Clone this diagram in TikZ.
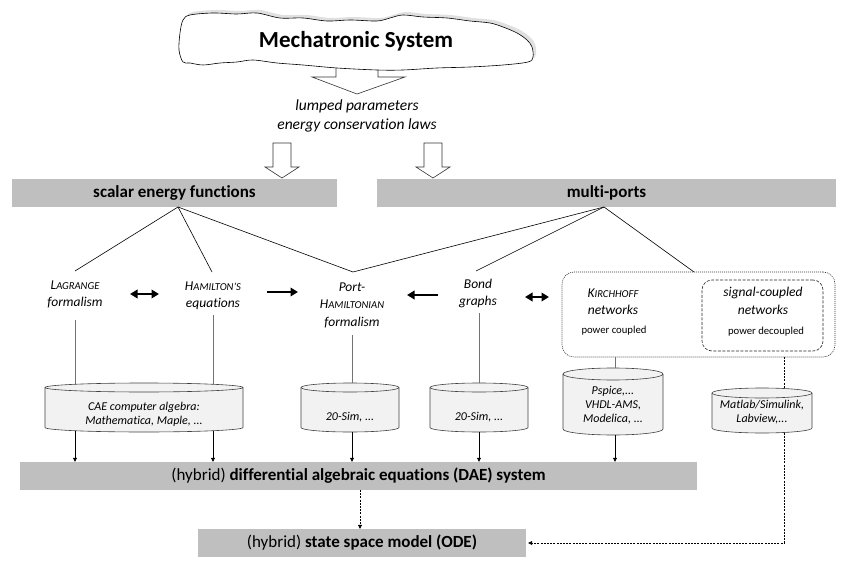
\documentclass[tikz,border=0pt]{standalone}
\usepackage{fontspec}
\setmainfont{Carlito}[Ligatures={NoCommon}]
\usetikzlibrary{arrows.meta,shapes.geometric}
\newcommand\fsc[2]{#1{\fontsize{10.6}{17.5}\selectfont #2}}
\newcommand\mycyl[8]{%
  \path[cylfill] ({#2-#5},{#3+#6}) -- ({#2-#5},{#4-#6}) arc[start angle=180,end angle=360,x radius=#5pt,y radius=#6pt] -- ({#2+#5},{#3+#6}) arc[start angle=0,end angle=180,x radius=#5pt,y radius=#6pt] -- cycle;
  \draw[cylline] ({#2-#5},{#3+#6}) -- ({#2-#5},{#4-#6}) arc[start angle=180,end angle=360,x radius=#5pt,y radius=#6pt] -- ({#2+#5},{#3+#6});
  \draw[cylline] (#2,{#3+#6}) ellipse[x radius=#5pt,y radius=#6pt];
  \node[cyltext] (#1) at (#2,#7) {#8};
}
\begin{document}
\begin{tikzpicture}[x=1pt,y=-1pt,
  barbase/.style={fill=black!25, inner sep=0pt, font=\fontsize{17}{20}\selectfont},
  bar/.style={barbase, font=\fontsize{17}{20}\selectfont\bfseries},
  it/.style={font=\fontsize{13.5}{17.5}\selectfont\itshape, align=center, inner sep=1pt},
  small/.style={font=\fontsize{10.7}{13}\selectfont, inner sep=1pt},
  cyltext/.style={font=\fontsize{12}{14}\selectfont\itshape, align=center, inner sep=1pt},
  tree/.style={line width=0.6pt},
  feed/.style={line width=0.7pt, draw=black!55},
  down/.style={line width=0.6pt, -{Triangle[length=4pt,width=4pt]}},
  sigline/.style={line width=0.6pt, dash pattern=on 2pt off 1.2pt},
  thickarr/.style={line width=2.4pt, -{Triangle[length=7.5pt,width=8.5pt]}},
  dblarr/.style={line width=2.4pt, {Triangle[length=7.5pt,width=8.5pt]}-{Triangle[length=7.5pt,width=8.5pt]}},
  cylfill/.style={fill=black!5},
  cylline/.style={draw=black!75, line width=0.6pt},
  blockarr/.style={draw=black!80, fill=white, line width=0.6pt},
]
\useasboundingbox (0,0) rectangle (845,569);

% block arrow from the cloud
\draw[blockarr] (336,60) -- (336,77) -- (312,77) -- (357,94) -- (405,77) -- (378,77) -- (378,60);

% cloud with shadow
\begin{scope}[shift={(3,-3)}]
\fill[black!12] plot[smooth cycle, tension=0.55] coordinates {(183,20) (190,15) (213,13) (237,14) (257,13) (280,18) (303,18) (327,21) (350,20) (377,21) (390,18) (403,15) (423,17) (447,18) (470,21) (490,23) (503,27) (517,33) (527,40) (532,47) (533,57) (528,62) (503,65) (470,67) (437,68) (403,70) (377,70) (337,68) (303,65) (277,63) (253,60) (237,62) (220,63) (203,65) (190,63) (183,62) (179,50) (180,33)};
\end{scope}
\draw[fill=white, line width=0.6pt] plot[smooth cycle, tension=0.55] coordinates {(183,20) (190,15) (213,13) (237,14) (257,13) (280,18) (303,18) (327,21) (350,20) (377,21) (390,18) (403,15) (423,17) (447,18) (470,21) (490,23) (503,27) (517,33) (527,40) (532,47) (533,57) (528,62) (503,65) (470,67) (437,68) (403,70) (377,70) (337,68) (303,65) (277,63) (253,60) (237,62) (220,63) (203,65) (190,63) (183,62) (179,50) (180,33)};
\node[font=\fontsize{23}{27}\selectfont\bfseries] (sys) at (356,41) {Mechatronic System};

\node[font=\fontsize{15.5}{19.5}\selectfont\itshape, align=center, inner sep=0pt] (lump) at (357,116) {lumped parameters\\energy conservation laws};

% two block arrows
\draw[blockarr] (273,143) -- (273,167) -- (265,167) -- (282,178) -- (299,167) -- (291,167) -- (291,143) -- cycle;
\draw[blockarr] (424,143) -- (424,167) -- (416,167) -- (433,178) -- (450,167) -- (442,167) -- (442,143) -- cycle;

% bars
\node[bar, minimum width=325, minimum height=28] (sef) at (174.5,193) {scalar energy functions};
\node[bar, minimum width=459, minimum height=28] (mp) at (606.5,193) {multi-ports};
\node[barbase, minimum width=677, minimum height=28] (dae) at (358.5,476) {(hybrid) \textbf{differential algebraic equations (DAE) system}};
\node[barbase, minimum width=328, minimum height=28] (ode) at (362,543) {(hybrid) \textbf{state space model (ODE)}};

% formalisms
\node[it] (lag) at (75,294.5) {\fsc{L}{AGRANGE}\\formalism};
\node[it] (ham) at (213,296) {\fsc{H}{AMILTON'S}\\equations};
\node[it] (port) at (352,305) {Port-\\\fsc{H}{AMILTONIAN}\\formalism};
\node[it] (bond) at (478,293.5) {Bond\\graphs};

% network boxes
\node[draw=black!80, line width=0.6pt, dash pattern=on 1pt off 1pt, rounded corners=12pt, minimum width=273, minimum height=85] (kbox) at (698.5,314.5) {};
\node[draw=black!85, line width=0.6pt, dash pattern=on 3pt off 1.5pt, rounded corners=10pt, minimum width=121, minimum height=71] (sbox) at (762.5,315.5) {};
\node[it] (kir) at (613,301.5) {\fsc{K}{IRCHHOFF}\\networks};
\node[small] (pc) at (614,331) {power coupled};
\node[it] (sig) at (763,301) {signal-coupled\\networks};
\node[small] (pd) at (766,332) {power decoupled};

% tree lines
\coordinate (sefJ) at (178,207);
\coordinate (mpJ) at (604,207);
\coordinate (lagT) at (75,271);
\coordinate (hamT) at (212,272);
\coordinate (portT) at (353,272);
\coordinate (bondT) at (476,271);
\coordinate (kboxT) at (694,272);
\draw[tree] (lagT) -- (sefJ) -- (hamT);
\draw[tree] (sefJ) -- (portT) -- (mpJ);
\draw[tree] (bondT) -- (mpJ) -- (kboxT);

% horizontal arrows
\coordinate (a1s) at (130,294); \coordinate (a1e) at (159,294);
\coordinate (a2s) at (267,292); \coordinate (a2e) at (298,292);
\coordinate (a3s) at (438,295); \coordinate (a3e) at (407,295);
\coordinate (a4s) at (525,297); \coordinate (a4e) at (549,297);
\draw[dblarr] (a1s) -- (a1e);
\draw[thickarr] (a2s) -- (a2e);
\draw[thickarr] (a3s) -- (a3e);
\draw[dblarr] (a4s) -- (a4e);

% cylinders
\mycyl{cae}{144}{383}{432}{99}{4.5}{414}{CAE computer algebra:\\Mathematica, Maple, ...}
\mycyl{simA}{350}{383}{432}{49}{4.5}{417}{20-Sim, ...}
\mycyl{simB}{479}{383}{432}{49}{4.5}{417}{20-Sim, ...}
\mycyl{psp}{613}{368}{435}{50}{6}{405.5}{Pspice,...\\VHDL-AMS,\\Modelica, ...}
\mycyl{mat}{762}{388}{433}{50}{5}{412.5}{\fontsize{12}{15}\selectfont Matlab/Simulink,\\Labview,...}

% feeds into the tools
\coordinate (lagB) at (75,320);   \coordinate (caeT1) at (75,384.3);
\coordinate (hamB) at (213,315);  \coordinate (caeT2) at (213,384.3);
\coordinate (portB) at (352,335); \coordinate (simAT) at (352,383);
\coordinate (bondB) at (479,313); \coordinate (simBT) at (479,383);
\coordinate (kirB) at (615,357);  \coordinate (pspT) at (615,368);
\coordinate (sigB) at (784,357);  \coordinate (matT) at (784,388.5);
\draw[feed] (lagB) -- (caeT1);
\draw[feed] (hamB) -- (caeT2);
\draw[feed] (portB) -- (simAT);
\draw[feed] (bondB) -- (simBT);
\draw[feed] (kirB) -- (pspT);
\draw[sigline] (sigB) -- (matT);

% outputs to the DAE bar
\coordinate (caeA) at (75,430.7);
\coordinate (caeB) at (213,430.7);
\coordinate (simAB) at (352,432);
\coordinate (simBB) at (479,432);
\coordinate (pspB) at (615,435);
\draw[down] (caeA) -- (caeA |- dae.north);
\draw[down] (caeB) -- (caeB |- dae.north);
\draw[down] (simAB) -- (simAB |- dae.north);
\draw[down] (simBB) -- (simBB |- dae.north);
\draw[down] (pspB) -- (pspB |- dae.north);

% to the ODE bar
\coordinate (daeS) at (360,490);
\draw[sigline, -{Triangle[length=4pt,width=4pt]}] (daeS) -- (daeS |- ode.north);
\coordinate (matB) at (784,432.5);
\draw[sigline, -{Triangle[length=4pt,width=4pt]}] (matB) |- ([xshift=2pt]ode.east);
\end{tikzpicture}
\end{document}
